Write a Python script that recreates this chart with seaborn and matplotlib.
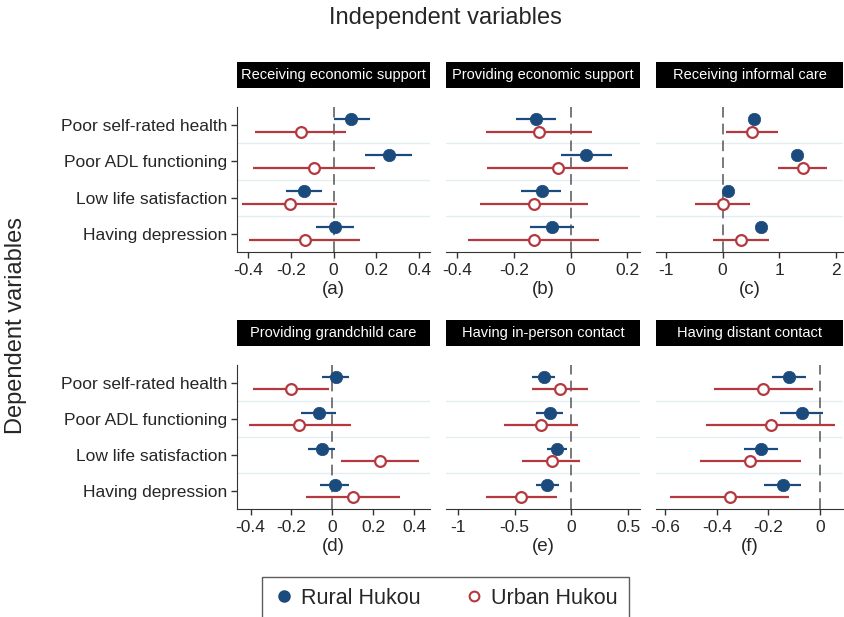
import matplotlib
matplotlib.use("Agg")
import matplotlib.pyplot as plt
from matplotlib.patches import Rectangle
from matplotlib.lines import Line2D
import numpy as np
import pandas as pd
import seaborn as sns

sns.set_style("ticks")
plt.rcParams['font.family'] = ['Liberation Sans', 'DejaVu Sans']

outcomes = ['Poor self-rated health', 'Poor ADL functioning',
            'Low life satisfaction', 'Having depression']
panels = ['Receiving economic support', 'Providing economic support',
          'Receiving informal care', 'Providing grandchild care',
          'Having in-person contact', 'Having distant contact']
letters = ['(a)', '(b)', '(c)', '(d)', '(e)', '(f)']

# coefficient, lower CI, upper CI per outcome (order as outcomes)
rural_est = [[0.084, 0.259, -0.138, 0.005],
             [-0.122, 0.054, -0.102, -0.065],
             [0.551, 1.306, 0.099, 0.679],
             [0.016, -0.068, -0.049, 0.010],
             [-0.243, -0.191, -0.123, -0.214],
             [-0.120, -0.068, -0.228, -0.144]]
rural_lo = [[0.000, 0.146, -0.222, -0.084],
            [-0.192, -0.035, -0.176, -0.144],
            [0.480, 1.240, 0.030, 0.610],
            [-0.050, -0.154, -0.120, -0.062],
            [-0.343, -0.308, -0.214, -0.314],
            [-0.184, -0.154, -0.293, -0.215]]
rural_hi = [[0.170, 0.369, -0.052, 0.097],
            [-0.052, 0.145, -0.033, 0.012],
            [0.630, 1.380, 0.170, 0.750],
            [0.080, 0.018, 0.013, 0.083],
            [-0.147, -0.073, -0.035, -0.111],
            [-0.054, 0.013, -0.161, -0.073]]
urban_est = [[-0.154, -0.092, -0.202, -0.133],
             [-0.113, -0.046, -0.129, -0.129],
             [0.511, 1.410, 0.000, 0.331],
             [-0.203, -0.161, 0.232, 0.099],
             [-0.097, -0.264, -0.170, -0.440],
             [-0.219, -0.190, -0.272, -0.350]]
urban_lo = [[-0.369, -0.376, -0.426, -0.395],
            [-0.299, -0.296, -0.320, -0.364],
            [0.058, 0.970, -0.476, -0.168],
            [-0.388, -0.406, 0.041, -0.128],
            [-0.343, -0.595, -0.431, -0.753],
            [-0.409, -0.441, -0.467, -0.581]]
urban_hi = [[0.060, 0.194, 0.016, 0.126],
            [0.074, 0.204, 0.060, 0.101],
            [0.975, 1.840, 0.482, 0.818],
            [-0.018, 0.089, 0.422, 0.330],
            [0.147, 0.059, 0.073, -0.126],
            [-0.028, 0.060, -0.075, -0.120]]

xticks = [[-0.4, -0.2, 0, 0.2, 0.4],
          [-0.4, -0.2, 0, 0.2],
          [-1, 0, 1, 2],
          [-0.4, -0.2, 0, 0.2, 0.4],
          [-1, -0.5, 0, 0.5],
          [-0.6, -0.4, -0.2, 0]]
xticklabels = [['-0.4', '-0.2', '0', '0.2', '0.4'],
               ['-0.4', '-0.2', '0', '0.2'],
               ['-1', '0', '1', '2'],
               ['-0.4', '-0.2', '0', '0.2', '0.4'],
               ['-1', '-0.5', '0', '0.5'],
               ['-0.6', '-0.4', '-0.2', '0']]
xlims = [(-0.451, 0.451), (-0.44, 0.245), (-1.17, 2.12),
         (-0.466, 0.476), (-1.103, 0.603), (-0.636, 0.09)]

navy = '#1b4a7c'
red = '#b5383f'

rows = []
for p in range(6):
    for i, o in enumerate(outcomes):
        rows.append(dict(panel=panels[p], outcome=o, group='Rural Hukou',
                         est=rural_est[p][i], lo=rural_lo[p][i], hi=rural_hi[p][i], ypos=i - 0.18))
        rows.append(dict(panel=panels[p], outcome=o, group='Urban Hukou',
                         est=urban_est[p][i], lo=urban_lo[p][i], hi=urban_hi[p][i], ypos=i + 0.18))
df = pd.DataFrame(rows)

fig = plt.figure(figsize=(8.44, 6.17), dpi=100)
W, H = 844.0, 617.0
col_x = [(237, 430), (446, 640), (656, 843)]
row_y = [(107, 252), (365, 509)]

for p in range(6):
    r, c = divmod(p, 3)
    x0, x1 = col_x[c]
    y0, y1 = row_y[r]
    ax = fig.add_axes([x0 / W, 1 - y1 / H, (x1 - x0) / W, (y1 - y0) / H])
    sub = df[df.panel == panels[p]]
    rur = sub[sub.group == 'Rural Hukou']
    urb = sub[sub.group == 'Urban Hukou']

    for b in [0.5, 1.5, 2.5]:
        ax.axhline(b, color='#e3eef0', lw=1, zorder=0)
    ax.axvline(0, color='#555555', lw=1.1, ls=(0, (7, 4)), zorder=1)

    ax.hlines(rur.ypos, rur.lo, rur.hi, color=navy, lw=1.6, zorder=2)
    ax.hlines(urb.ypos, urb.lo, urb.hi, color=red, lw=1.6, zorder=2)
    sns.scatterplot(data=rur, x='est', y='ypos', color=navy, s=80,
                    edgecolor=navy, linewidth=0.5, zorder=3, ax=ax, legend=False)
    sns.scatterplot(data=urb, x='est', y='ypos', facecolor='white', s=60,
                    edgecolor=red, linewidth=1.6, zorder=3, ax=ax, legend=False)

    ax.set_xlim(*xlims[p])
    ax.set_ylim(3.5, -0.5)
    ax.set_xticks(xticks[p])
    ax.set_xticklabels(xticklabels[p], fontsize=12.5)
    ax.set_xlabel(letters[p], fontsize=13.5, labelpad=2)
    ax.set_ylabel('')
    ax.tick_params(axis='x', length=4, width=1, color='#333333', pad=4)
    for s in ['top', 'right']:
        ax.spines[s].set_visible(False)
    ax.spines['bottom'].set_color('#333333')
    if c == 0:
        ax.set_yticks(range(4))
        ax.set_yticklabels(outcomes, fontsize=12.5)
        ax.tick_params(axis='y', length=4, width=1, color='#333333', pad=3)
        ax.spines['left'].set_color('#333333')
    else:
        ax.set_yticks([])
        ax.spines['left'].set_visible(False)

    # black title box
    hpx = y1 - y0
    bb = 1 + 19 / hpx
    bt = 1 + 45 / hpx
    ax.add_patch(Rectangle((0, bb), 1, bt - bb, transform=ax.transAxes,
                           facecolor='black', edgecolor='none', clip_on=False))
    ax.text(0.5, (bb + bt) / 2, panels[p], transform=ax.transAxes, color='white',
            ha='center', va='center', fontsize=10.5)

fig.text(445 / W, 1 - 18 / H, 'Independent variables', ha='center', va='center', fontsize=17)
fig.text(16 / W, 1 - 325 / H, 'Dependent variables', ha='center', va='center',
         rotation=90, fontsize=17)

handles = [Line2D([], [], marker='o', ls='none', color=navy, markersize=8),
           Line2D([], [], marker='o', ls='none', markerfacecolor='white',
                  markeredgecolor=red, markeredgewidth=1.5, markersize=7)]
leg = fig.legend(handles, ['Rural Hukou', 'Urban Hukou'], loc='upper left',
                 bbox_to_anchor=(262 / W, 1 - 577 / H), borderaxespad=0, ncol=2,
                 fontsize=15.5, frameon=True, fancybox=False, edgecolor='#333333',
                 handletextpad=0.3, columnspacing=2.0, borderpad=0.5,
                 handlelength=1.0)
leg.get_frame().set_linewidth(1)

fig.savefig('out.png', dpi=100)
